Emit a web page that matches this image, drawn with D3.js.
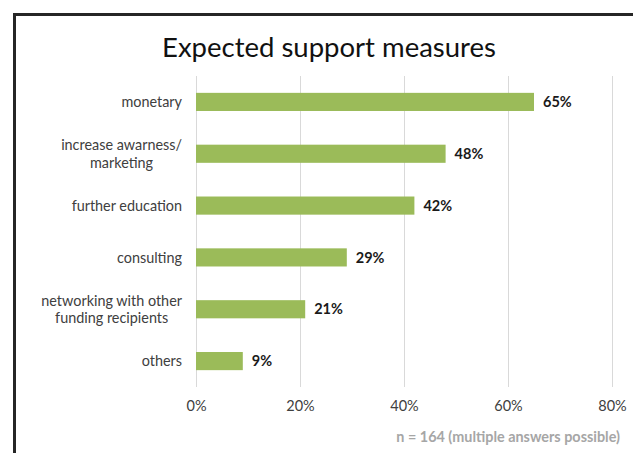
<!DOCTYPE html>
<html>
<head>
<meta charset="utf-8">
<script src="https://cdn.jsdelivr.net/npm/d3@7"></script>
<style>
  html, body { margin: 0; padding: 0; background: #fff; }
  svg { display: block; }
</style>
</head>
<body>
<svg id="chart" width="633" height="453"></svg>
<script>
// Survey answers: which support measures respondents expect
const categories = [
  ["monetary"],
  ["increase awarness/", "marketing"],
  ["further education"],
  ["consulting"],
  ["networking with other", "funding recipients"],
  ["others"]
];
const shares = [65, 48, 42, 29, 21, 9];
const tickValues = [0, 20, 40, 60, 80];
const titleText = "Expected support measures";
const noteText = "n = 164 (multiple answers possible)";

const FONT = "Lato, 'Open Sans', sans-serif";
const svg = d3.select("#chart");

// outer frame of the chart area
svg.append("rect")
  .attr("x", 14.5).attr("y", 14.5)
  .attr("width", 700).attr("height", 500)
  .attr("fill", "#fff")
  .attr("stroke", "#262626")
  .attr("stroke-width", 3);

const x = d3.scaleLinear().domain([0, 80]).range([196, 612]);
const keys = categories.map(c => c.join(" "));
const y = d3.scaleBand().domain(keys).range([76, 387])
  .paddingInner(0.65).paddingOuter(0.325);

// vertical gridlines
svg.append("g").selectAll("line").data(tickValues).join("line")
  .attr("x1", d => Math.round(x(d)) + 0.5).attr("x2", d => Math.round(x(d)) + 0.5)
  .attr("y1", 76).attr("y2", 387)
  .attr("stroke", "#d9d9d9").attr("stroke-width", 1);

// bottom axis tick labels
const axis = d3.axisBottom(x).tickValues(tickValues).tickFormat(d => d + "%").tickSize(0).tickPadding(0);
const gAxis = svg.append("g").attr("transform", "translate(0,401)").call(axis);
gAxis.select(".domain").remove();
gAxis.selectAll("text")
  .attr("font-family", FONT).attr("font-size", 14.5)
  .attr("fill", "#404040").attr("dy", "0.71em");

// bars
const rows = categories.map((c, i) => ({ key: keys[i], lines: c, v: shares[i] }));
svg.append("g").selectAll("rect").data(rows).join("rect")
  .attr("x", x(0))
  .attr("y", d => y(d.key))
  .attr("width", d => x(d.v) - x(0))
  .attr("height", y.bandwidth())
  .attr("fill", "#9bbb59");

// value labels
svg.append("g").selectAll("text").data(rows).join("text")
  .attr("x", d => x(d.v) + 9)
  .attr("y", d => y(d.key) + y.bandwidth() / 2)
  .attr("dy", "0.36em")
  .attr("font-family", FONT).attr("font-size", 14.5).attr("font-weight", 700)
  .attr("fill", "#1a1a1a")
  .text(d => d.v + "%");

// category labels: block right-aligned, wrapped lines centred within it
const labelRight = 182;
const lineH = 17.5;
const gLab = svg.append("g");
rows.forEach(r => {
  const t = gLab.append("text")
    .attr("font-family", FONT).attr("font-size", 14.4)
    .attr("fill", "#404040").attr("text-anchor", "middle");
  const cy = y(r.key) + y.bandwidth() / 2;
  const n = r.lines.length;
  const spans = r.lines.map((ln, j) => t.append("tspan")
    .attr("y", cy + (j - (n - 1) / 2) * lineH)
    .attr("dy", "0.36em")
    .text(ln));
  let maxW = 0;
  spans.forEach(s => { maxW = Math.max(maxW, s.node().getComputedTextLength()); });
  spans.forEach(s => s.attr("x", labelRight - maxW / 2));
});

// title
svg.append("text")
  .attr("x", 329).attr("y", 57)
  .attr("text-anchor", "middle")
  .attr("font-family", FONT).attr("font-size", 27.5)
  .attr("fill", "#111")
  .text(titleText);

// sample size note
svg.append("text")
  .attr("x", 620).attr("y", 442)
  .attr("text-anchor", "end")
  .attr("font-family", FONT).attr("font-size", 14.4).attr("font-weight", 700)
  .attr("fill", "#a6a6a6")
  .text(noteText);
</script>
</body>
</html>
